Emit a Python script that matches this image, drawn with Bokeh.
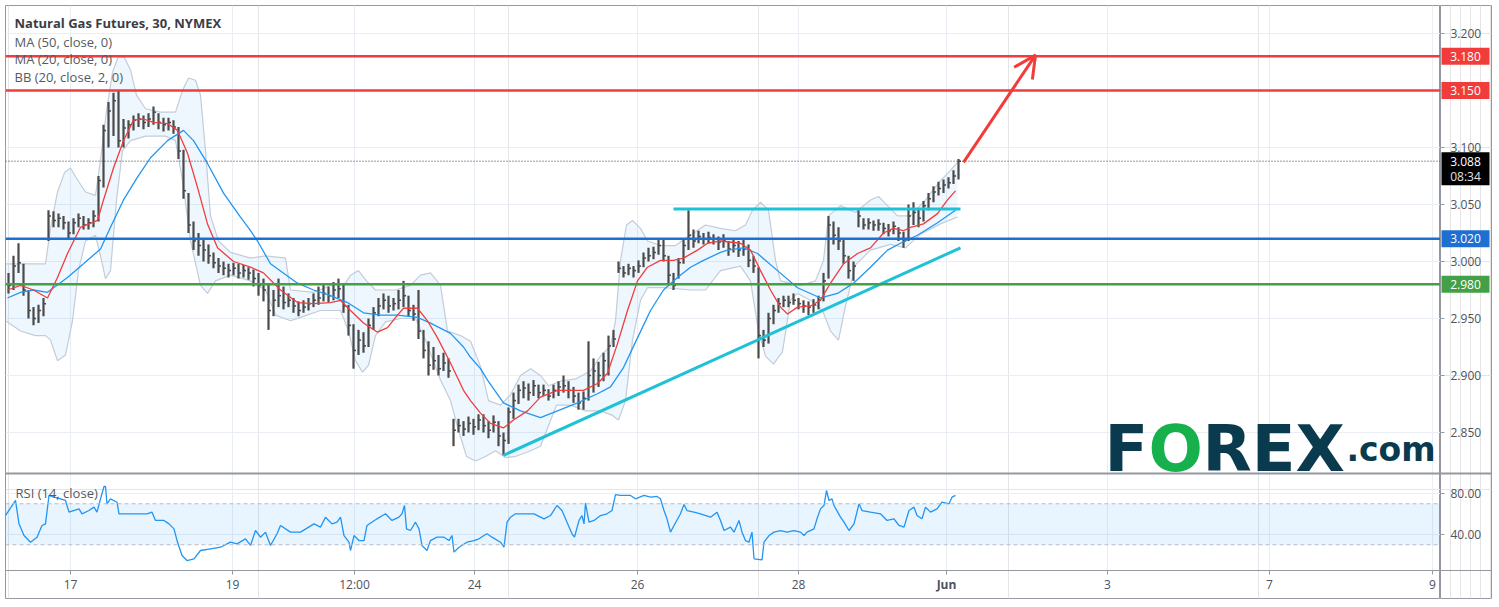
import numpy as np
from bokeh.plotting import figure
from bokeh.layouts import row
from bokeh.models import (Span, Label, Arrow, OpenHead, BoxAnnotation, FixedTicker,
                          Range1d, Grid, ColumnDataSource)
from bokeh.core.properties import value
from bokeh.embed import file_html
from bokeh.resources import INLINE

# ---------------- data (30-min bars) ----------------
closes = [2.979,2.996,2.999,2.975,2.957,2.950,2.957,2.963,3.040,3.036,
          3.038,3.034,3.025,3.034,3.038,3.032,3.034,3.040,3.071,3.115,
          3.132,3.141,3.106,3.117,3.120,3.124,3.125,3.122,3.125,3.131,
          3.122,3.120,3.122,3.118,3.097,3.062,3.032,3.018,3.014,3.010,
          3.005,2.999,2.996,2.994,2.992,2.994,2.990,2.992,2.990,2.985,
          2.979,2.975,2.957,2.966,2.970,2.964,2.966,2.961,2.957,2.960,
          2.963,2.966,2.968,2.972,2.970,2.975,2.976,2.961,2.944,2.922,
          2.931,2.926,2.944,2.955,2.961,2.966,2.961,2.963,2.966,2.970,
          2.957,2.954,2.939,2.922,2.909,2.913,2.906,2.911,2.904,2.852,
          2.856,2.853,2.858,2.855,2.861,2.856,2.852,2.859,2.847,2.843,
          2.868,2.878,2.887,2.889,2.885,2.891,2.885,2.887,2.882,2.887,
          2.890,2.891,2.887,2.882,2.876,2.880,2.900,2.904,2.900,2.913,
          2.926,2.932,2.994,2.990,2.994,2.992,2.996,3.003,3.005,3.008,
          3.014,3.005,2.988,2.979,2.999,3.014,3.023,3.018,3.022,3.020,
          3.021,3.020,3.017,3.018,3.011,3.014,3.010,3.011,3.001,2.996,
          2.935,2.931,2.950,2.957,2.963,2.966,2.964,2.966,2.963,2.961,
          2.960,2.962,2.966,2.983,3.032,3.023,3.018,3.005,2.992,2.996,
          3.040,3.032,3.034,3.032,3.033,3.029,3.027,3.031,3.025,3.018,
          3.040,3.043,3.038,3.049,3.055,3.061,3.064,3.067,3.069,3.075,
          3.088]
highs = [2.990,3.005,3.016,2.998,2.975,2.960,2.962,2.968,3.045,3.044,
         3.042,3.040,3.035,3.038,3.042,3.040,3.038,3.045,3.075,3.120,
         3.140,3.148,3.150,3.125,3.124,3.128,3.130,3.128,3.130,3.136,
         3.130,3.126,3.126,3.124,3.118,3.098,3.060,3.035,3.025,3.020,
         3.015,3.008,3.003,3.000,2.998,2.999,2.998,2.997,2.995,2.993,
         2.990,2.985,2.980,2.975,2.985,2.978,2.972,2.968,2.965,2.966,
         2.968,2.972,2.978,2.980,2.978,2.982,2.985,2.980,2.962,2.945,
         2.940,2.938,2.950,2.960,2.968,2.972,2.970,2.968,2.975,2.983,
         2.970,2.962,2.975,2.940,2.930,2.925,2.918,2.920,2.915,2.862,
         2.862,2.860,2.864,2.862,2.866,2.866,2.860,2.865,2.860,2.850,
         2.872,2.885,2.892,2.895,2.893,2.896,2.892,2.892,2.888,2.892,
         2.895,2.900,2.895,2.890,2.885,2.886,2.930,2.915,2.912,2.920,
         2.935,2.940,3.000,2.996,2.998,2.996,3.001,3.008,3.012,3.013,
         3.020,3.020,3.005,2.990,3.003,3.020,3.045,3.028,3.027,3.025,
         3.026,3.024,3.022,3.024,3.018,3.020,3.018,3.020,3.015,3.005,
         2.995,2.940,2.955,2.962,2.968,2.970,2.970,2.972,2.968,2.966,
         2.965,2.967,2.970,2.990,3.040,3.035,3.030,3.020,3.005,3.000,
         3.045,3.038,3.038,3.036,3.037,3.034,3.033,3.035,3.030,3.026,
         3.050,3.052,3.047,3.053,3.060,3.066,3.070,3.072,3.074,3.080,
         3.090]
lows = [2.972,2.975,2.990,2.970,2.950,2.944,2.946,2.952,3.018,3.030,
        3.030,3.028,3.020,3.024,3.030,3.028,3.028,3.030,3.035,3.065,
        3.100,3.110,3.100,3.100,3.108,3.115,3.118,3.116,3.118,3.120,
        3.116,3.114,3.115,3.112,3.090,3.055,3.025,3.010,3.005,3.000,
        2.998,2.994,2.990,2.988,2.986,2.988,2.985,2.986,2.984,2.978,
        2.970,2.965,2.940,2.952,2.960,2.958,2.960,2.955,2.952,2.955,
        2.957,2.960,2.962,2.965,2.964,2.966,2.968,2.955,2.935,2.906,
        2.918,2.920,2.925,2.940,2.952,2.958,2.955,2.957,2.958,2.960,
        2.952,2.948,2.932,2.915,2.900,2.905,2.900,2.904,2.898,2.838,
        2.850,2.847,2.850,2.848,2.852,2.850,2.845,2.850,2.838,2.830,
        2.840,2.862,2.875,2.880,2.878,2.882,2.880,2.882,2.878,2.880,
        2.882,2.885,2.880,2.876,2.870,2.870,2.878,2.885,2.890,2.895,
        2.900,2.925,2.990,2.986,2.988,2.986,2.990,2.995,3.000,3.002,
        3.006,3.000,2.980,2.975,2.985,2.998,3.010,3.012,3.016,3.015,
        3.016,3.015,3.010,3.012,3.005,3.008,3.004,3.005,2.995,2.990,
        2.915,2.925,2.928,2.945,2.955,2.960,2.960,2.962,2.958,2.955,
        2.953,2.955,2.958,2.965,2.985,3.015,3.010,2.998,2.985,2.983,
        3.030,3.028,3.028,3.027,3.027,3.024,3.022,3.024,3.018,3.012,
        3.018,3.032,3.030,3.035,3.045,3.052,3.058,3.060,3.064,3.068,
        3.072]

# indicator lines (time in bar units, value)
ma20_t = [-0.2,2.4,5.0,7.8,9.8,11.8,14.4,17.8,19.0,21.0,23.0,25.0,27.0,29.0,31.8,33.8,35.8,37.8,39.8,41.8,
          45.0,48.4,51.0,54.4,57.8,61.0,64.4,66.4,68.4,71.0,73.8,75.8,77.8,79.0,81.8,83.8,85.8,88.4,91.0,92.4,
          94.4,96.4,99.0,101.0,103.8,106.4,109.8,112.4,115.0,117.8,119.8,121.8,123.8,125.8,127.8,130.4,133.0,135.0,137.8,139.8,
          142.4,146.4,148.4,150.4,152.4,154.4,155.8,157.8,160.4,162.4,164.4,167.0,169.8,172.4,175.0,177.0,179.0,180.4,183.0,185.8,
          187.8,189.4]
ma20_v = [2.975,2.979,2.975,2.968,2.986,3.007,3.030,3.036,3.054,3.082,3.106,3.124,3.125,3.122,3.121,3.115,3.095,3.065,3.033,3.012,
          3.000,2.995,2.990,2.975,2.964,2.963,2.964,2.966,2.957,2.946,2.938,2.942,2.953,2.959,2.959,2.948,2.933,2.911,2.887,2.878,
          2.867,2.858,2.854,2.861,2.869,2.881,2.887,2.887,2.887,2.893,2.902,2.928,2.957,2.983,2.995,3.001,3.001,3.003,3.010,3.016,
          3.018,3.016,3.010,2.992,2.975,2.960,2.954,2.960,2.961,2.966,2.981,2.998,3.007,3.012,3.025,3.029,3.027,3.030,3.033,3.042,
          3.054,3.062]
ma50_t = [-0.2,2.4,5.0,7.8,11.8,15.0,18.4,20.4,23.0,25.8,28.4,31.8,35.0,37.0,39.8,43.0,46.4,48.4,49.8,52.4,
          57.8,61.0,64.4,67.8,71.0,74.4,77.8,81.8,84.4,88.4,91.0,92.4,94.4,95.8,99.0,102.4,106.4,109.8,113.8,117.8,
          120.4,123.0,125.8,128.4,131.0,133.8,136.4,139.0,142.4,143.8,147.0,149.8,153.8,157.8,162.4,165.8,169.0,172.4,175.8,178.4,
          181.8,185.8,189.4]
ma50_v = [2.968,2.973,2.975,2.973,2.986,2.998,3.011,3.030,3.054,3.074,3.091,3.106,3.115,3.106,3.086,3.060,3.039,3.027,3.018,2.998,
          2.981,2.975,2.970,2.964,2.955,2.953,2.953,2.951,2.946,2.937,2.925,2.916,2.906,2.896,2.876,2.869,2.863,2.869,2.876,2.884,
          2.890,2.907,2.933,2.957,2.975,2.986,2.995,3.001,3.008,3.010,3.012,3.007,2.992,2.977,2.968,2.972,2.981,2.995,3.010,3.016,
          3.023,3.034,3.045]
bbu_t = [-0.6,7.4,8.4,9.8,11.2,12.4,13.6,15.4,17.4,18.4,19.6,20.8,22.0,23.2,24.4,25.6,27.4,30.4,33.4,34.8,
         36.0,37.4,38.4,39.4,40.4,42.0,44.4,48.4,51.4,55.4,56.4,61.0,64.4,67.4,68.4,70.0,71.6,73.4,77.4,80.4,
         82.4,84.4,86.4,87.8,90.4,92.4,94.4,96.0,98.4,100.4,102.4,104.4,106.4,108.0,110.4,113.4,116.4,118.4,120.4,121.4,
         122.4,123.6,124.8,126.4,127.8,130.4,133.4,136.4,139.4,142.4,145.4,147.4,148.8,150.4,152.0,153.4,154.4,158.4,161.4,163.0,
         164.0,166.4,169.4,172.4,174.0,175.8,177.8,180.4,183.4,186.4,188.4,189.8]
bbu_v = [2.998,2.998,3.029,3.061,3.078,3.082,3.073,3.061,3.058,3.089,3.132,3.166,3.180,3.179,3.168,3.146,3.134,3.131,3.131,3.150,
         3.161,3.159,3.146,3.097,3.040,3.018,3.008,3.003,3.005,3.003,2.975,2.973,2.979,2.981,2.988,2.992,2.983,2.975,2.975,2.979,
         2.988,2.990,2.979,2.939,2.935,2.930,2.908,2.878,2.874,2.883,2.900,2.906,2.900,2.891,2.895,2.897,2.904,2.917,2.926,2.948,
         3.001,3.032,3.036,3.029,3.018,3.014,3.014,3.023,3.032,3.029,3.027,3.032,3.045,3.052,3.045,3.001,2.983,2.979,2.983,3.001,
         3.040,3.049,3.043,3.054,3.057,3.049,3.040,3.040,3.054,3.071,3.080,3.087]
bbl_t = [-0.6,2.4,5.4,7.4,8.4,9.8,11.4,12.8,14.0,15.4,17.4,18.4,19.4,20.4,21.6,22.8,24.4,27.4,31.4,33.4,
         34.8,36.4,38.4,39.8,41.4,44.4,48.4,51.4,53.4,56.4,58.4,62.4,66.4,68.0,69.4,70.8,72.0,73.4,75.4,78.4,
         81.4,83.4,86.4,88.4,90.0,91.6,93.4,95.4,97.4,99.4,101.4,104.4,106.4,108.0,109.6,112.4,115.4,118.4,120.8,122.0,
         123.4,124.8,126.4,127.8,131.4,136.4,139.4,142.4,146.4,148.4,150.0,151.4,153.0,154.8,156.4,157.8,160.4,162.8,164.4,166.0,
         167.4,169.4,172.4,176.4,179.4,182.4,186.4,189.8]
bbl_v = [2.948,2.939,2.935,2.935,2.931,2.913,2.918,2.948,2.992,3.018,3.023,3.005,2.985,2.992,3.054,3.097,3.106,3.110,3.110,3.106,
         3.071,3.018,2.979,2.972,2.983,2.988,2.983,2.975,2.953,2.948,2.951,2.957,2.957,2.939,2.913,2.903,2.909,2.935,2.947,2.950,
         2.950,2.931,2.896,2.878,2.852,2.829,2.825,2.829,2.834,2.828,2.829,2.834,2.838,2.856,2.874,2.874,2.869,2.869,2.865,2.861,
         2.878,2.931,2.966,2.977,2.977,2.975,2.975,2.992,2.996,2.983,2.939,2.917,2.910,2.921,2.966,2.972,2.966,2.957,2.939,2.931,
         2.961,2.997,3.010,3.015,3.012,3.024,3.033,3.039]
rsi_t = [-0.6,1.4,2.1,3.1,4.4,5.7,6.7,7.4,8.1,9.1,10.4,11.4,12.1,14.1,14.7,16.1,17.1,17.7,18.4,19.1,
         19.4,19.7,20.4,21.7,22.1,25.1,26.4,27.7,28.7,29.4,31.1,32.1,33.1,33.7,34.7,35.7,37.1,38.4,40.4,42.4,
         44.4,45.7,47.4,48.4,49.4,50.4,51.4,52.4,53.7,54.4,56.4,58.4,61.1,62.4,63.4,64.7,65.7,66.4,67.1,68.1,
         68.4,69.1,70.1,71.1,71.7,73.7,75.4,76.7,78.1,78.7,79.2,79.6,80.4,81.4,82.1,82.7,83.7,84.4,85.7,87.1,
         88.1,88.7,89.1,90.1,91.7,93.1,94.1,95.1,95.7,96.7,98.4,
         99.1,99.7,100.4,101.4,102.4,105.1,107.1,108.4,109.7,110.7,111.7,112.7,113.2,114.1,114.7,115.1,115.4,116.1,117.1,118.4,
         119.7,120.7,121.4,122.4,124.4,125.4,127.1,128.4,129.7,130.4,131.1,131.7,132.4,133.1,134.4,135.1,135.7,137.1,138.4,140.4,
         141.7,142.4,143.1,144.4,145.1,146.1,146.7,147.4,148.1,148.7,149.1,150.7,151.1,152.1,153.1,154.4,155.7,157.1,158.4,159.1,
         159.7,161.1,161.7,162.4,163.1,163.6,164.1,164.7,165.1,166.4,167.1,168.1,169.1,170.1,170.7,172.4,174.4,175.7,177.1,178.1,
         179.1,180.1,181.1,181.7,182.7,183.4,184.4,185.7,186.7,188.1,188.7,189.4]
rsi_v = [58.5,73.2,50.4,39.0,32.5,37.4,48.8,50.4,78.1,76.4,74.8,73.2,61.8,65.0,60.2,63.4,66.7,61.8,74.8,86.8,
         86.8,69.9,74.8,71.5,60.2,60.2,60.2,60.2,61.8,53.7,53.7,50.4,45.5,34.2,19.5,14.6,16.3,24.4,26.0,27.6,
         32.5,30.9,35.8,29.3,43.9,37.4,42.3,29.3,40.7,48.8,42.3,42.3,50.4,47.2,56.9,50.4,52.0,56.9,39.0,32.5,
         24.4,39.0,34.1,34.1,48.8,55.3,60.2,53.7,56.9,60.2,68.3,45.5,43.9,52.0,45.5,29.3,24.4,34.1,37.4,37.4,
         34.1,39.0,22.8,27.6,32.5,34.1,35.8,39.0,40.7,37.4,32.5,
         27.6,52.0,56.9,60.2,60.2,60.2,55.3,58.5,68.3,63.4,52.0,40.7,37.4,53.7,58.5,50.4,70.6,52.0,53.7,58.5,
         60.2,63.4,79.0,78.1,78.1,74.8,78.1,76.4,77.1,74.8,63.4,55.3,42.3,48.8,60.2,69.3,63.4,61.8,60.2,56.9,
         61.8,53.7,43.9,47.2,42.3,53.7,42.3,34.1,32.5,42.3,16.3,15.3,32.5,39.0,42.3,43.9,42.3,43.9,42.3,39.0,
         42.3,45.5,55.3,65.0,68.3,82.9,73.2,74.8,68.3,56.9,52.0,43.9,50.4,69.9,63.4,61.8,60.2,53.7,55.3,48.8,
         47.2,63.4,66.7,58.5,55.3,66.7,61.8,65.0,71.5,69.9,76.4,78.1]

x_tick_pos = [12.4, 44.8, 69.2, 93.2, 125.8, 158.0, 187.6, 219.8, 252.2, 284.8]
x_tick_labels = ["17", "19", "12:00", "24", "26", "28", "Jun", "3", "7", "9"]
month_labels = ["Jun"]
price_ticks = [2.85, 2.90, 2.95, 3.00, 3.05, 3.10, 3.15, 3.20]
rsi_ticks = [40, 80]
rsi_bands = (30, 70)
levels = [3.180, 3.150, 3.020, 2.980]
level_colors = ["#f23c3c", "#f23c3c", "#1e6fd2", "#43a047"]
last_price = 3.088
last_time = "08:34"
support_t, support_v = [99.0, 190.4], [2.830, 3.012]
resist_t, resist_v = [133.0, 190.4], [3.046, 3.046]
arrow_from = (191.0, 3.087)
arrow_to = (205.4, 3.181)

legend_title = "Natural Gas Futures, 30, NYMEX"
legend_rows = ["MA (50, close, 0)", "MA (20, close, 0)", "BB (20, close, 2, 0)"]
logo_parts = ["F", "O", "REX", ".com"]

# ---------------- geometry / style ----------------
FONT = "Open Sans"
LOGO_FONT = "DejaVu Sans"
BORDER = "#9598a1"
GRID = "#e9eef5"
TXT = "#4c525e"
BAR = "#4a4a4a"

X0, X1 = -0.6, 286.4
P_TOP, P_BOT = 3.22456, 2.81404        # visible price pane
MAIN_H, RSI_H, DATE_H = 468, 97, 28    # pane heights (px)
FRAME_H = MAIN_H + RSI_H + DATE_H
PPU = MAIN_H / (P_TOP - P_BOT)
P_MIN = P_TOP - FRAME_H / PPU
R_TOP, R_BOTTOM = 99.5, 4.9
R_PPU = RSI_H / (R_TOP - R_BOTTOM)
R_MAX = R_TOP + MAIN_H / R_PPU
R_MIN = R_BOTTOM - DATE_H / R_PPU

def price_at(px):      # px below the top of the price pane
    return P_TOP - px / PPU

def rsi_at(px):        # px below the top of the RSI pane
    return R_TOP - px / R_PPU

def make(width, x_range, right):
    p = figure(width=width, height=FRAME_H + 6, x_range=x_range, y_range=Range1d(P_MIN, P_TOP),
               output_backend="svg", toolbar_location=None,
               x_axis_location=None, y_axis_location=None,
               min_border_left=5 if not right else 0, min_border_top=5,
               min_border_bottom=1, min_border_right=1 if right else 0)
    p.extra_y_ranges = {"rsi": Range1d(R_MIN, R_MAX)}
    p.outline_line_color = BORDER
    p.background_fill_color = "white"
    p.border_fill_color = "white"
    p.add_layout(Span(location=P_BOT, dimension="width", line_color=BORDER, line_width=2))
    p.add_layout(Span(location=R_BOTTOM, dimension="width", line_color=BORDER, line_width=1,
                      y_range_name="rsi"))
    return p

p = make(1440, Range1d(X0, X1), False)
a = make(52, Range1d(0, 51), True)

# grids
p.segment(x0=x_tick_pos, y0=R_BOTTOM, x1=x_tick_pos, y1=R_MAX, line_color=GRID, y_range_name="rsi")
p.add_layout(Grid(dimension=1, ticker=FixedTicker(ticks=price_ticks), grid_line_color=GRID))
p.segment(x0=X0, y0=rsi_ticks, x1=X1, y1=rsi_ticks, line_color=GRID, y_range_name="rsi")

# ---------------- price pane ----------------
xs = np.arange(len(closes))
p.patch(bbu_t + bbl_t[::-1], bbu_v + bbl_v[::-1], fill_color="#2196f3", fill_alpha=0.08, line_color=None)
p.line(bbu_t, bbu_v, line_color="#c3ccd8", line_width=1.2)
p.line(bbl_t, bbl_v, line_color="#c3ccd8", line_width=1.2)

for lv, c in zip(levels, level_colors):
    p.add_layout(Span(location=lv, dimension="width", line_color=c, line_width=2.5))
p.add_layout(Span(location=last_price, dimension="width", line_color="#333333",
                  line_width=1, line_dash="1 2"))

p.segment(x0=xs, y0=lows, x1=xs, y1=highs, line_color=BAR, line_width=2.2)
p.segment(x0=xs, y0=closes, x1=xs + 0.5, y1=closes, line_color=BAR, line_width=1.5)

p.line(ma50_t, ma50_v, line_color="#2196f3", line_width=1.3)
p.line(ma20_t, ma20_v, line_color="#f23c3c", line_width=1.3)

p.line(support_t, support_v, line_color="#1fc1d6", line_width=3)
p.line(resist_t, resist_v, line_color="#1fc1d6", line_width=3)

p.add_layout(Arrow(end=OpenHead(line_color="#f23c3c", line_width=3, size=22),
                   x_start=arrow_from[0], y_start=arrow_from[1],
                   x_end=arrow_to[0], y_end=arrow_to[1],
                   line_color="#f23c3c", line_width=3))

p.add_layout(Label(x=1.2, y=price_at(17), text=legend_title, text_baseline="middle",
                   text_font=FONT, text_font_size="13px", text_font_style="bold", text_color="#3a3d45"))
for k, t in enumerate(legend_rows):
    p.add_layout(Label(x=1.2, y=price_at(36 + 17.5 * k), text=t, text_baseline="middle",
                       text_font=FONT, text_font_size="13px", text_color="#555a64"))

# logo
LOGO = "#0a3a4d"
logo_x = [219.2, 228.0, 238.8, 267.6]
logo_px = [443, 443, 443, 443.6]
logo_size = ["64px", "64px", "64px", "33px"]
logo_col = [LOGO, "#16b04c", LOGO, LOGO]
for t, x, py, s, c in zip(logo_parts, logo_x, logo_px, logo_size, logo_col):
    p.add_layout(Label(x=x, y=price_at(py), text=t, text_font=LOGO_FONT, text_font_style="bold",
                       text_font_size=s, text_color=c, text_baseline="middle"))

# ---------------- RSI pane ----------------
p.add_layout(BoxAnnotation(bottom=rsi_bands[0], top=rsi_bands[1], fill_color="#2196f3",
                           fill_alpha=0.1, line_color=None, y_range_name="rsi"))
for lv in rsi_bands:
    p.add_layout(Span(location=lv, dimension="width", line_color="#b8bcc4", line_width=1,
                      line_dash="4 3", y_range_name="rsi"))
p.line(rsi_t, rsi_v, line_color="#2196f3", line_width=1.3, y_range_name="rsi")
p.add_layout(Label(x=1.4, y=rsi_at(19), text="RSI (14, close)", text_baseline="middle",
                   text_font=FONT, text_font_size="13px", text_color="#555a64", y_range_name="rsi"))

# date axis
p.segment(x0=x_tick_pos, y0=R_BOTTOM, x1=x_tick_pos, y1=R_BOTTOM - 4 / R_PPU, line_color=BORDER,
          y_range_name="rsi")
date_src = ColumnDataSource(dict(x=x_tick_pos, y=[rsi_at(111)] * len(x_tick_pos), text=x_tick_labels,
                                 style=["bold" if l in month_labels else "normal" for l in x_tick_labels]))
p.text(x="x", y="y", text="text", source=date_src, text_font=value(FONT), text_font_size="12px",
       text_font_style="style", text_color=TXT, text_baseline="middle", text_align="center",
       y_range_name="rsi")

# ---------------- right axis strip ----------------
a.segment(x0=0, y0=price_ticks, x1=4, y1=price_ticks, line_color=BORDER)
a.text(x=10, y=price_ticks, text=[f"{v:.3f}" for v in price_ticks], text_font=value(FONT),
       text_font_size="12px", text_color=TXT, text_baseline="middle", text_align="left")
a.rect(x=25, y=levels, width=48, height=17, width_units="screen", height_units="screen",
       fill_color=level_colors, line_color=None)
a.text(x=25, y=levels, text=[f"{v:.3f}" for v in levels], text_font=value(FONT),
       text_font_size="12px", text_color="white", text_baseline="middle", text_align="center")
a.rect(x=25, y=last_price - 7.5 / PPU, width=48, height=33, width_units="screen",
       height_units="screen", fill_color="#000000", line_color=None)
a.text(x=25, y=[last_price, last_price - 15 / PPU], text=[f"{last_price:.3f}", last_time],
       text_font=value(FONT), text_font_size="12px", text_color=["white", "#e0e0e0"],
       text_baseline="middle", text_align="center")
a.segment(x0=0, y0=rsi_ticks, x1=4, y1=rsi_ticks, line_color=BORDER, y_range_name="rsi")
a.text(x=10, y=rsi_ticks, text=[f"{v:.2f}" for v in rsi_ticks], text_font=value(FONT),
       text_font_size="12px", text_color=TXT, text_baseline="middle", text_align="left",
       y_range_name="rsi")

layout = row(p, a, spacing=0)
open("out.html", "w").write(file_html(layout, INLINE))
